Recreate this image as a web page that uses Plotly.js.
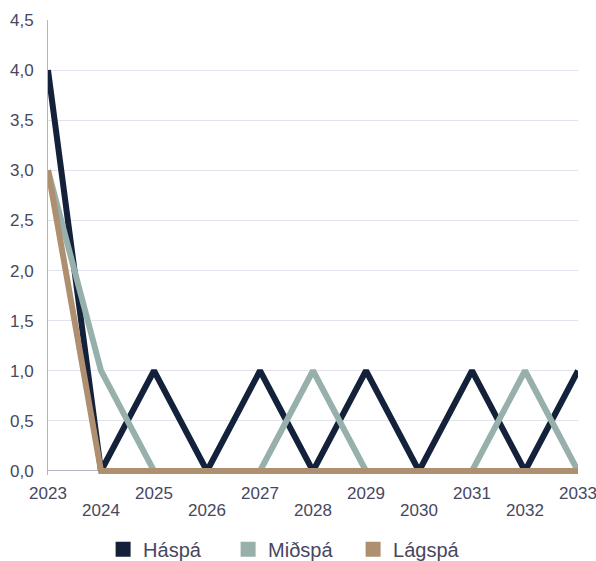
<!DOCTYPE html>
<html>
<head>
<meta charset="utf-8">
<script src="https://cdn.plot.ly/plotly-3.0.1.min.js"></script>
<style>
html,body{margin:0;padding:0;background:#fff;}
#chart{width:596px;height:561px;}
</style>
</head>
<body>
<div id="chart"></div>
<script>
const years = [2023, 2024, 2025, 2026, 2027, 2028, 2029, 2030, 2031, 2032, 2033];
const oddYears = [2023, 2025, 2027, 2029, 2031, 2033];
const evenYears = [2024, 2026, 2028, 2030, 2032];
const oddLabels = ["2023", "2025", "2027", "2029", "2031", "2033"];
const evenLabels = ["2024", "2026", "2028", "2030", "2032"];
const haspa = [4, 0, 1, 0, 1, 0, 1, 0, 1, 0, 1];
const midspa = [3, 1, 0, 0, 0, 1, 0, 0, 0, 1, 0];
const lagspa = [3, 0, 0, 0, 0, 0, 0, 0, 0, 0, 0];
const seriesNames = ["Háspá", "Miðspá", "Lágspá"];
const seriesColors = ["#13223a", "#97b0ac", "#ae8f6f"];
const seriesValues = [haspa, midspa, lagspa];
const yTicks = [0, 0.5, 1, 1.5, 2, 2.5, 3, 3.5, 4, 4.5];

const traces = [];
seriesValues.forEach((vals, i) => {
  traces.push({
    x: years, y: vals, type: 'scatter', mode: 'lines',
    line: {color: seriesColors[i], width: 6},
    showlegend: false, hoverinfo: 'x+y', name: seriesNames[i]
  });
});
seriesNames.forEach((n, i) => {
  traces.push({
    x: [null], y: [null], type: 'scatter', mode: 'markers',
    xaxis: i === 2 ? 'x3' : 'x2',
    marker: {symbol: 'square', size: 15, color: seriesColors[i]},
    name: n, showlegend: true
  });
});

const labelAxis = (vals, txt, standoff) => ({
  range: [2023, 2033],
  overlaying: 'x', anchor: 'y', side: 'bottom',
  tickvals: vals, ticktext: txt,
  showgrid: false, zeroline: false, showline: false,
  ticks: '', tickangle: 0, ticklabelstandoff: standoff,
  ticklabeloverflow: 'allow',
  tickfont: {size: 17, color: '#474760'},
  fixedrange: true
});

const layout = {
  width: 596, height: 561,
  margin: {l: 48, r: 18, t: 20, b: 86, autoexpand: false},
  paper_bgcolor: '#fff', plot_bgcolor: '#fff',
  separators: ',.',
  font: {family: 'Liberation Sans, Arial, sans-serif', color: '#474760', size: 17},
  xaxis: {
    range: [2023, 2033],
    showticklabels: false,
    showgrid: false, zeroline: false, showline: false,
    ticks: '', fixedrange: true
  },
  xaxis2: labelAxis(oddYears, oddLabels, 6),
  xaxis3: labelAxis(evenYears, evenLabels, 23),
  yaxis: {
    range: [-0.04, 4.5],
    tickvals: yTicks, tickformat: '.1f',
    showgrid: true, gridcolor: '#e2e2ec', gridwidth: 1,
    zeroline: true, zerolinecolor: '#b4b4cc', zerolinewidth: 1,
    showline: true, linecolor: '#b4b4cc', linewidth: 1,
    ticks: '', ticklabelstandoff: 10,
    tickfont: {size: 17, color: '#474760'},
    fixedrange: true
  },
  legend: {
    orientation: 'h', xref: 'container', yref: 'container',
    x: 0.173, xanchor: 'left', y: 0.021, yanchor: 'middle',
    font: {size: 20, color: '#474760'},
    entrywidth: 80, entrywidthmode: 'pixels', itemwidth: 30
  }
};

Plotly.newPlot('chart', traces, layout, {displayModeBar: false, staticPlot: true});
</script>
</body>
</html>
